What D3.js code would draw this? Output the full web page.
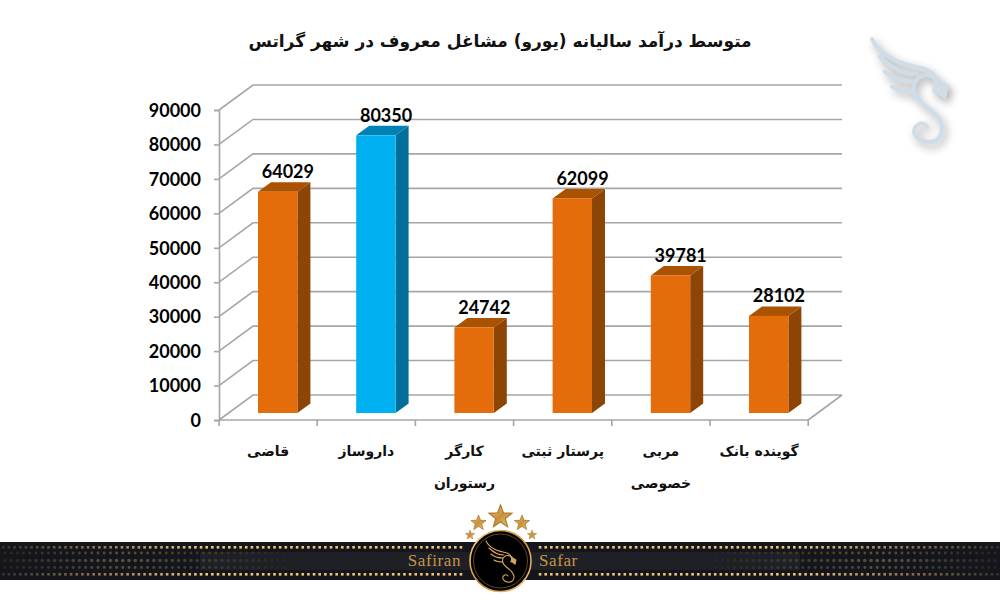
<!DOCTYPE html>
<html lang="fa"><head><meta charset="utf-8">
<script src="https://cdn.jsdelivr.net/npm/d3@7/dist/d3.min.js"></script>
<style>html,body{margin:0;padding:0;background:#fff}svg{display:block}</style></head>
<body><svg id="c" width="1000" height="600"></svg>
<script>
const titleText = "متوسط درآمد سالیانه (یورو) مشاغل معروف در شهر گراتس";
const categories = ["قاضی","داروساز","کارگر رستوران","پرستار ثبتی","مربی خصوصی","گوینده بانک"];
const categoryLines = [["قاضی"],["داروساز"],["کارگر","رستوران"],["پرستار ثبتی"],["مربی","خصوصی"],["گوینده بانک"]];
const values = [64029,80350,24742,62099,39781,28102];
const highlighted = ["داروساز"];
const yTicks = [0,10000,20000,30000,40000,50000,60000,70000,80000,90000];

const svg = d3.select("#c");
const faFont = "'DejaVu Sans',sans-serif", numFont = "Lato,sans-serif";
const dx = 34, dy = -25, bdx = 13, bdy = -9.5;
const x = d3.scaleBand().domain(categories).range([219,808.2]);
const y = d3.scaleLinear().domain([0,90000]).range([420,110]);
const barBase = 413, barW = 39.4;
const yBar = d3.scaleLinear().domain([0,90000]).range([barBase,barBase-311]);
const grid = "#a6a6a6";

svg.append("text").attr("x",500).attr("y",47).attr("text-anchor","middle").attr("direction","rtl")
  .attr("font-family",faFont).attr("font-weight",700).attr("font-size",17).attr("fill","#111").text(titleText);

// walls
const g = svg.append("g").attr("fill","none").attr("stroke",grid).attr("stroke-width",1.6);
yTicks.forEach(t=>{
  g.append("path").attr("d",d3.line()([[219,y(t)],[219+dx,y(t)+dy],[842,y(t)+dy]]));
});
g.append("path").attr("d",d3.line()([[808.2,420],[842,395]]));

// axes
const yAxis = d3.axisLeft(y).tickValues(yTicks).tickSize(5).tickFormat(d3.format("d"));
const ya = svg.append("g").attr("transform","translate(219,0)").call(yAxis);
ya.select(".domain").attr("stroke",grid).attr("stroke-width",1.6);
ya.selectAll("line").attr("stroke",grid).attr("stroke-width",1.6);
ya.selectAll("text").attr("font-family",numFont).attr("font-weight",700).attr("font-size",18).attr("fill","#000").attr("x",-18).attr("dy","0.35em");
const xl = svg.append("g").attr("stroke",grid).attr("stroke-width",1.6);
xl.append("line").attr("x1",219).attr("x2",808.2).attr("y1",420).attr("y2",420);
categories.forEach(c=>xl.append("line").attr("x1",x(c)).attr("x2",x(c)).attr("y1",420).attr("y2",426));
xl.append("line").attr("x1",808.2).attr("x2",808.2).attr("y1",420).attr("y2",426);

// bars
categories.forEach((c,i)=>{
  const v = values[i], hi = highlighted.includes(c);
  const x0 = x(c)+39, x1 = x0+barW, t = yBar(v);
  const cols = hi ? ["#00b0f0","#0082b4","#006f9c"] : ["#e46c0a","#aa5200","#8c4505"];
  svg.append("path").attr("fill",cols[2]).attr("d",d3.line()([[x1,barBase],[x1+bdx,barBase+bdy],[x1+bdx,t+bdy],[x1,t]])+"Z");
  svg.append("path").attr("fill",cols[1]).attr("d",d3.line()([[x0,t],[x0+bdx,t+bdy],[x1+bdx,t+bdy],[x1,t]])+"Z");
  svg.append("rect").attr("x",x0).attr("y",t).attr("width",barW).attr("height",barBase-t).attr("fill",cols[0]);
  svg.append("text").attr("x",x1-9.5).attr("y",t+bdy-4).attr("text-anchor","middle")
    .attr("font-family",numFont).attr("font-weight",700).attr("font-size",18).attr("fill","#000").text(v);
  const cx = x(c)+x.bandwidth()/2;
  categoryLines[i].forEach((ln,k)=>{
    svg.append("text").attr("x",cx).attr("y",456+k*32).attr("text-anchor","middle").attr("direction","rtl")
      .attr("font-family",faFont).attr("font-weight",700).attr("font-size",14).attr("fill","#111").text(ln);
  });
});

// footer band
const defs = svg.append("defs");
const gold = defs.append("linearGradient").attr("id","gold").attr("x1",0).attr("x2",1).attr("y1",0).attr("y2",1);
gold.append("stop").attr("offset",0).attr("stop-color","#f6d58a");
gold.append("stop").attr("offset",.5).attr("stop-color","#c98f3a");
gold.append("stop").attr("offset",1).attr("stop-color","#f2c879");
const band = svg.append("g");
band.append("rect").attr("x",0).attr("y",542).attr("width",1000).attr("height",38).attr("fill","#15161c");
band.append("rect").attr("x",200).attr("y",552).attr("width",600).attr("height",18).attr("fill","#23242b").attr("opacity",.7);
const edgeFade = d3.scaleLinear().domain([0,200,800,1000]).range([.15,1,1,.15]).clamp(true);
d3.range(3,1000,5.65).forEach(px=>{
  if(px>465&&px<535) return;
  [547,574].forEach(py=>band.append("rect").attr("x",px-1).attr("y",py-1).attr("width",2.6).attr("height",2.6).attr("fill","#f2c47a").attr("opacity",edgeFade(px)));
});
const midFade = d3.scaleLinear().domain([0,120,300,1000]).range([.1,.45,0,0]).clamp(true);
[0,1000].forEach((_,side)=>{
  d3.range(5,300,6.2).forEach(d=>{
    [553,560.5,567.5].forEach((py,row)=>{
      const px = side? 1000-d : d;
      band.append("circle").attr("cx",px).attr("cy",py).attr("r",row==1?1.8:1.4).attr("fill","#b89a6a").attr("opacity",midFade(d));
    });
  });
});
band.append("text").attr("x",461).attr("y",566).attr("text-anchor","end").attr("font-family","'Liberation Serif',serif").attr("font-size",17).attr("letter-spacing",.6).attr("fill","#c4964a").text("Safiran");
band.append("text").attr("x",539).attr("y",566).attr("font-family","'Liberation Serif',serif").attr("font-size",17).attr("letter-spacing",.6).attr("fill","#c4964a").text("Safar");
band.append("circle").attr("cx",500.5).attr("cy",561).attr("r",30.5).attr("fill","#000").attr("stroke","url(#gold)").attr("stroke-width",1.6);
band.append("circle").attr("cx",500.5).attr("cy",561).attr("r",27).attr("fill","none").attr("stroke","#7a5a28").attr("stroke-width",.8);
const star = d3.lineRadial().curve(d3.curveLinearClosed)(d3.range(10).map(i=>[i*Math.PI/5,i%2?.42:1]));
[[500.5,517,12],[478.5,523,8],[522,523,8],[470,535,5],[532,535,5]].forEach(s=>{
  band.append("path").attr("d",star).attr("transform",`translate(${s[0]},${s[1]}) scale(${s[2]})`).attr("fill","url(#gold)").attr("stroke","#a87a2c").attr("stroke-width",.1);
});
function swan(sel,tr,col,w){
  const s = sel.append("g").attr("transform",tr).attr("fill","none").attr("stroke",col).attr("stroke-linecap","round").attr("stroke-width",w);
  s.append("path").attr("d","M0 0 C8 16 24 20 42 24 C48 26 54 34 50 42");
  s.append("path").attr("d","M6 14 C14 22 24 28 36 28");
  s.append("path").attr("d","M10 26 C16 32 26 34 34 34");
  s.append("path").attr("d","M16 38 C22 42 28 42 34 42");
  s.append("path").attr("d","M52 32 C40 24 30 34 34 44 C38 54 56 58 56 72 C56 84 40 86 34 76 C32 70 40 64 44 70");
  s.append("path").attr("d","M50 32 L60 38 L58 46 L50 40").attr("fill",col);
}
swan(band,"translate(486,541) scale(.5)","#d6a75a",2.2);
const logo = svg.append("g").attr("filter","drop-shadow(3px 4px 4px rgba(0,0,0,.35))");
swan(logo,"translate(872,39) scale(1.25)","#cfdde8",3.2);
</script></body></html>
